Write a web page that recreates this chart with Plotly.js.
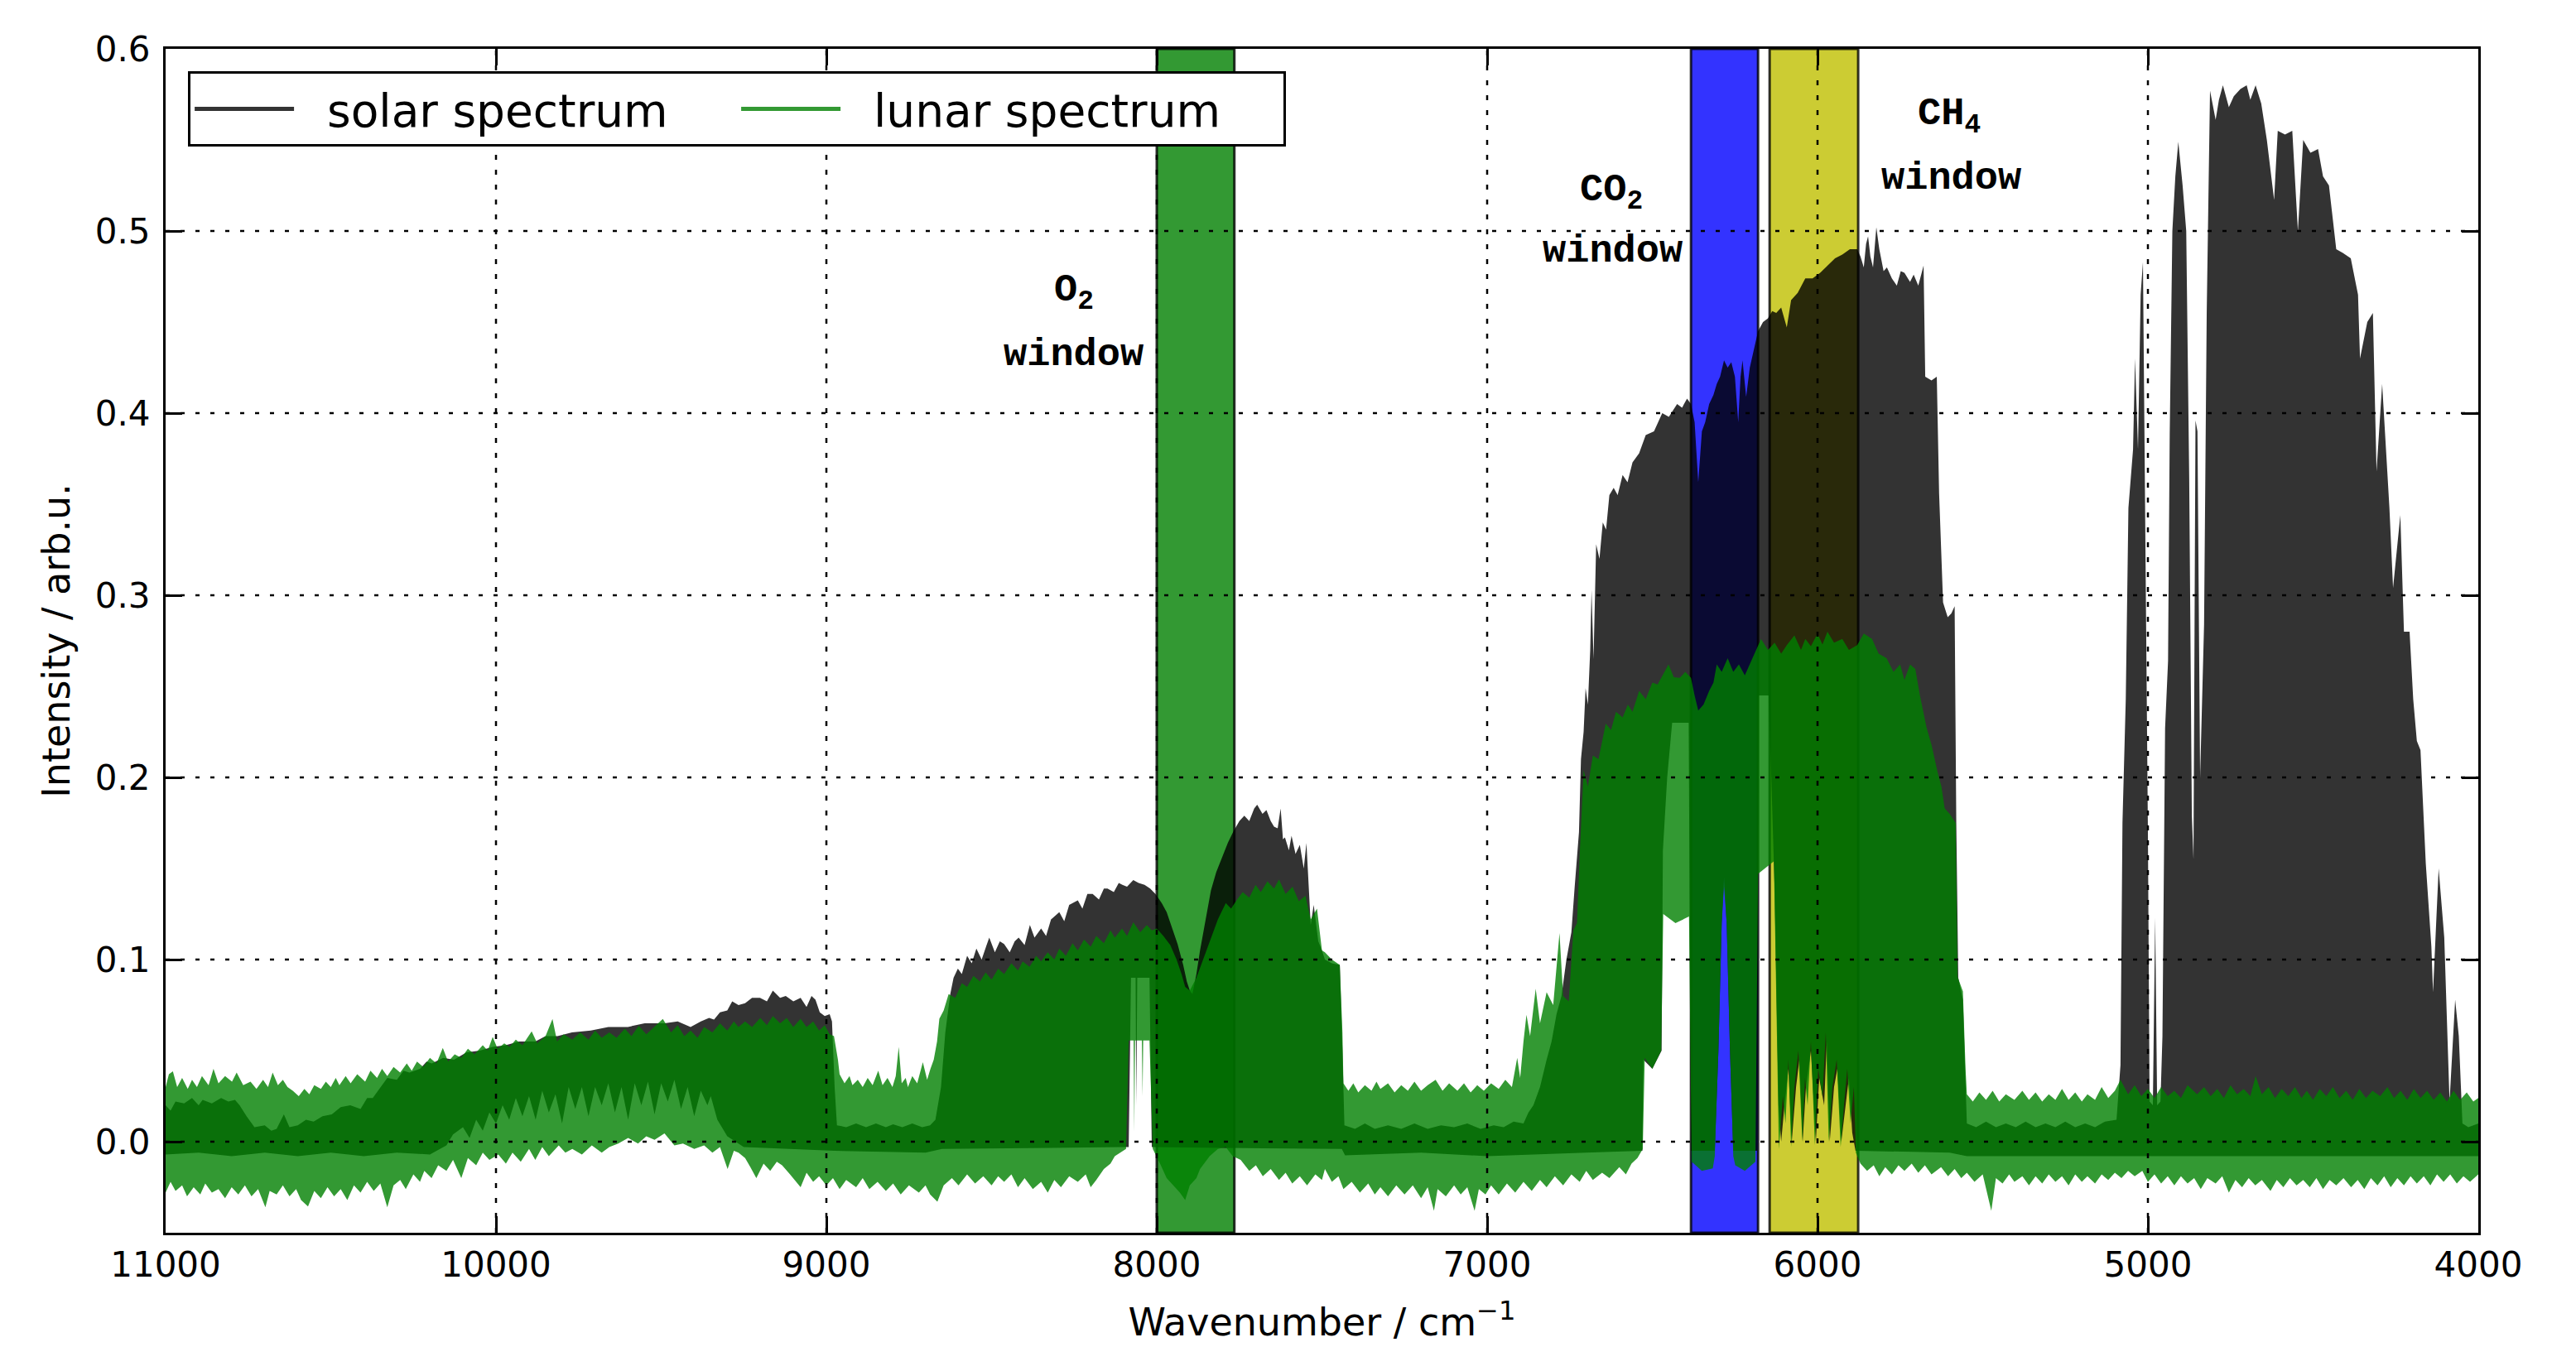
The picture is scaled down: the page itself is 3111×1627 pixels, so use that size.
<!DOCTYPE html>
<html>
<head>
<meta charset="utf-8">
<script src="https://cdn.plot.ly/plotly-3.0.1.min.js"></script>
<style>
  html, body { margin: 0; padding: 0; background: #ffffff; }
  #chart { width: 3111px; height: 1627px; }
</style>
</head>
<body>
<div id="chart"></div>
<script>
// ---------------- data ----------------
// Each spectrum is a dense, noisy trace; it is kept as its upper and lower envelope,
// as [wavenumber (cm^-1), intensity (arb.u.)] pairs.
const solarTop = [[11000,.020],[10985,.017],[10970,.022],[10944,.021],[10920,.024],[10900,.020],[10888,.023],[10860,.021],[10832,.024],[10810,.022],[10790,.023],[10776,.020],[10755,.014],[10740,.010],[10731,.008],[10700,.009],[10680,.006],[10664,.007],[10642,.015],[10625,.008],[10600,.009],[10575,.012],[10552,.011],[10525,.014],[10497,.015],[10470,.019],[10441,.020],[10410,.018],[10390,.024],[10373,.024],[10350,.030],[10329,.035],[10300,.034],[10280,.039],[10262,.038],[10230,.040],[10210,.044],[10194,.043],[10160,.046],[10127,.045],[10090,.049],[10049,.050],[10010,.052],[9971,.053],[9930,.055],[9881,.055],[9850,.058],[9814,.058],[9770,.060],[9713,.061],[9660,.063],[9601,.063],[9550,.065],[9490,.065],[9450,.066],[9411,.063],[9380,.066],[9355,.068],[9340,.067],[9322,.071],[9300,.072],[9285,.077],[9266,.075],[9246,.076],[9225,.079],[9201,.079],[9180,.077],[9162,.083],[9140,.079],[9123,.080],[9100,.077],[9078,.079],[9060,.074],[9045,.080],[9033,.078],[9020,.071],[9005,.069],[8990,.070],[8983,.066],[8975,.030],[8968,.009],[8940,.008],[8910,.010],[8880,.008],[8850,.010],[8820,.008],[8798,.0095],[8770,.008],[8740,.010],[8710,.008],[8686,.009],[8670,.012],[8653,.030],[8640,.060],[8625,.081],[8615,.090],[8602,.095],[8590,.092],[8574,.102],[8560,.098],[8546,.106],[8530,.100],[8515,.108],[8507,.112],[8490,.104],[8475,.110],[8462,.1085],[8445,.104],[8430,.110],[8418,.112],[8400,.108],[8384,.119],[8370,.112],[8350,.117],[8335,.113],[8320,.122],[8295,.126],[8280,.121],[8265,.130],[8239,.1325],[8225,.128],[8210,.136],[8194,.136],[8175,.133],[8160,.139],[8149,.139],[8130,.137],[8115,.142],[8104,.141],[8090,.140],[8071,.1436],[8055,.142],[8037,.141],[8020,.139],[8004,.136],[7985,.131],[7970,.126],[7955,.118],[7937,.1085],[7920,.097],[7909,.088],[7900,.083],[7892,.081],[7880,.092],[7869,.105],[7850,.124],[7836,.138],[7820,.148],[7802,.156],[7785,.164],[7769,.170],[7750,.176],[7735,.179],[7720,.176],[7705,.183],[7696,.185],[7680,.180],[7668,.182],[7655,.176],[7645,.173],[7634,.172],[7625,.183],[7618,.166],[7612,.167],[7600,.160],[7592,.168],[7580,.158],[7567,.163],[7555,.150],[7547,.164],[7540,.140],[7534,.119],[7525,.130],[7511,.110],[7500,.105],[7491,.100],[7470,.098],[7446,.097],[7438,.050],[7432,.009],[7400,.007],[7370,.010],[7340,.007],[7300,.009],[7260,.007],[7220,.010],[7180,.007],[7140,.009],[7100,.008],[7060,.010],[7020,.007],[6980,.009],[6950,.008],[6920,.011],[6890,.010],[6875,.016],[6860,.020],[6840,.030],[6820,.045],[6805,.055],[6790,.070],[6775,.080],[6760,.100],[6745,.115],[6735,.140],[6722,.170],[6716,.210],[6708,.225],[6702,.249],[6695,.240],[6688,.270],[6684,.303],[6678,.265],[6670,.328],[6660,.320],[6650,.340],[6640,.336],[6630,.355],[6617,.359],[6605,.355],[6590,.366],[6575,.362],[6560,.373],[6540,.378],[6520,.388],[6495,.390],[6470,.400],[6450,.398],[6425,.405],[6410,.403],[6395,.408],[6383,.405],[6372,.395],[6361,.362],[6350,.390],[6340,.395],[6328,.405],[6315,.410],[6305,.416],[6295,.420],[6283,.429],[6272,.425],[6261,.428],[6250,.420],[6240,.395],[6233,.420],[6227,.429],[6216,.409],[6205,.425],[6194,.434],[6180,.445],[6165,.450],[6150,.452],[6137,.456],[6125,.455],[6110,.458],[6093,.447],[6080,.462],[6060,.466],[6037,.474],[6015,.474],[5992,.477],[5970,.481],[5947,.485],[5925,.487],[5902,.490],[5880,.490],[5870,.486],[5860,.480],[5853,.493],[5847,.497],[5840,.486],[5832,.480],[5822,.502],[5813,.490],[5800,.478],[5790,.480],[5775,.474],[5760,.470],[5748,.478],[5737,.477],[5720,.472],[5709,.476],[5695,.470],[5679,.481],[5674,.420],[5655,.418],[5639,.420],[5632,.356],[5620,.296],[5606,.288],[5595,.290],[5585,.294],[5580,.175],[5574,.090],[5560,.078],[5548,.010],[5520,.008],[5490,.011],[5460,.008],[5430,.010],[5400,.008],[5370,.011],[5340,.008],[5310,.010],[5280,.008],[5250,.011],[5220,.008],[5190,.010],[5160,.008],[5130,.011],[5095,.012],[5083,.042],[5077,.175],[5067,.243],[5059,.348],[5045,.380],[5039,.430],[5030,.380],[5022,.465],[5015,.483],[5006,.316],[5000,.171],[4995,.022],[4985,.020],[4978,.123],[4972,.020],[4962,.022],[4956,.058],[4948,.227],[4939,.264],[4934,.388],[4926,.500],[4917,.530],[4908,.549],[4895,.525],[4884,.500],[4875,.364],[4867,.179],[4862,.155],[4856,.396],[4850,.390],[4842,.200],[4830,.284],[4822,.455],[4812,.577],[4795,.561],[4785,.572],[4773,.580],[4755,.568],[4740,.574],[4720,.578],[4701,.580],[4690,.572],[4674,.580],[4657,.570],[4640,.550],[4618,.517],[4607,.555],[4585,.553],[4563,.555],[4546,.500],[4530,.550],[4508,.543],[4485,.545],[4470,.530],[4452,.525],[4430,.490],[4410,.488],[4386,.485],[4364,.465],[4358,.430],[4336,.450],[4319,.455],[4308,.368],[4291,.416],[4269,.348],[4258,.304],[4236,.344],[4225,.280],[4208,.280],[4197,.243],[4186,.220],[4175,.215],[4159,.153],[4142,.107],[4137,.082],[4120,.150],[4103,.112],[4087,.022],[4070,.078],[4059,.058],[4048,.010],[4030,.008],[4000,.010]];
const solarLow = [[11000,-.007],[10900,-.006],[10800,-.008],[10700,-.006],[10600,-.008],[10500,-.006],[10400,-.008],[10300,-.006],[10200,-.007],[10170,-.004],[10150,-.002],[10130,.004],[10100,.008],[10080,.002],[10060,.012],[10040,.006],[10020,.016],[10000,.010],[9980,.020],[9960,.012],[9940,.024],[9920,.014],[9900,.025],[9880,.012],[9860,.028],[9840,.016],[9820,.026],[9800,.010],[9780,.030],[9760,.018],[9740,.030],[9720,.014],[9700,.030],[9680,.020],[9660,.032],[9640,.016],[9620,.030],[9600,.012],[9580,.032],[9560,.020],[9540,.033],[9520,.015],[9500,.032],[9480,.022],[9460,.034],[9440,.018],[9420,.030],[9400,.014],[9380,.028],[9360,.020],[9350,.025],[9330,.012],[9310,.006],[9300,.003],[9250,-.003],[8975,-.005],[8700,-.006],[8650,-.004],[8100,-.003],[8085,-.003],[8078,.090],[8064,.090],[8062,.020],[8059,.090],[8022,.090],[8015,-.003],[7440,-.004],[7430,-.0075],[7200,-.006],[7000,-.008],[6700,-.006],[6530,-.005],[6527,.045],[6500,.040],[6472,.050],[6468,.160],[6455,.200],[6440,.230],[6390,.230],[6383,-.005],[6311,-.005],[6300,.050],[6290,.120],[6283,.145],[6275,.120],[6265,.050],[6255,-.005],[6183,-.005],[6178,.245],[6148,.245],[6140,.200],[6130,.140],[6118,.020],[6110,.000],[6100,.020],[6088,.040],[6078,.000],[6065,.030],[6055,.045],[6045,.000],[6035,.030],[6020,.050],[6005,.000],[5995,.035],[5980,.020],[5972,.055],[5963,.000],[5950,.030],[5940,.040],[5928,.000],[5915,.020],[5905,.035],[5895,.005],[5885,-.005],[5600,-.006],[5548,-.008],[4000,-.008]];

const lunarTop = [[11000,.030],[10990,.037],[10978,.0386],[10965,.030],[10950,.035],[10933,.029],[10920,.034],[10905,.030],[10890,.036],[10870,.031],[10855,.040],[10840,.032],[10820,.036],[10799,.033],[10785,.038],[10765,.031],[10743,.033],[10725,.029],[10705,.034],[10690,.030],[10676,.038],[10660,.031],[10645,.034],[10631,.030],[10615,.028],[10597,.025],[10580,.029],[10565,.026],[10550,.031],[10530,.029],[10515,.033],[10500,.030],[10485,.035],[10474,.031],[10455,.036],[10440,.032],[10420,.037],[10396,.033],[10380,.039],[10360,.035],[10345,.040],[10329,.036],[10310,.041],[10290,.038],[10270,.043],[10255,.039],[10239,.044],[10220,.041],[10200,.046],[10180,.043],[10161,.0515],[10145,.044],[10125,.048],[10105,.046],[10085,.051],[10065,.048],[10040,.053],[10025,.050],[10010,.0575],[9995,.051],[9975,.054],[9959,.052],[9940,.056],[9920,.053],[9892,.0606],[9875,.054],[9850,.058],[9829,.0674],[9815,.055],[9795,.059],[9769,.056],[9745,.060],[9720,.056],[9700,.061],[9680,.057],[9657,.060],[9635,.057],[9610,.062],[9590,.058],[9568,.0636],[9545,.059],[9520,.063],[9495,.0674],[9470,.060],[9450,.064],[9430,.058],[9411,.061],[9390,.057],[9370,.063],[9345,.060],[9322,.065],[9300,.061],[9280,.066],[9266,.063],[9246,.066],[9225,.063],[9200,.068],[9180,.064],[9162,.069],[9140,.065],[9120,.068],[9100,.063],[9078,.0675],[9060,.063],[9040,.066],[9022,.061],[9005,.064],[8990,.059],[8977,.058],[8965,.045],[8960,.037],[8945,.032],[8930,.036],[8921,.031],[8905,.034],[8890,.030],[8875,.035],[8860,.031],[8843,.039],[8830,.031],[8815,.035],[8800,.030],[8790,.036],[8781,.052],[8772,.032],[8760,.035],[8753,.030],[8740,.036],[8725,.032],[8708,.0436],[8695,.034],[8685,.040],[8675,.045],[8665,.055],[8658,.0675],[8645,.072],[8630,.081],[8610,.079],[8590,.087],[8574,.085],[8555,.091],[8535,.088],[8518,.093],[8500,.089],[8480,.095],[8462,.092],[8440,.098],[8420,.094],[8406,.099],[8385,.096],[8365,.102],[8350,.099],[8330,.104],[8310,.100],[8295,.106],[8275,.102],[8255,.109],[8239,.105],[8220,.111],[8200,.107],[8183,.113],[8160,.109],[8140,.116],[8127,.112],[8105,.117],[8090,.113],[8071,.1205],[8050,.115],[8030,.119],[8015,.116],[8000,.117],[7980,.113],[7959,.108],[7940,.100],[7925,.092],[7914,.085],[7900,.083],[7880,.090],[7860,.100],[7836,.112],[7815,.122],[7791,.131],[7775,.128],[7757,.133],[7740,.137],[7720,.134],[7701,.141],[7685,.137],[7665,.143],[7645,.139],[7630,.144],[7610,.136],[7589,.140],[7570,.132],[7550,.135],[7534,.122],[7515,.128],[7500,.105],[7491,.104],[7470,.100],[7446,.097],[7438,.060],[7435,.032],[7420,.028],[7405,.032],[7390,.027],[7370,.031],[7350,.028],[7335,.033],[7323,.029],[7300,.032],[7280,.027],[7260,.031],[7240,.028],[7220,.033],[7200,.028],[7180,.031],[7156,.034],[7135,.028],[7115,.032],[7090,.028],[7070,.032],[7050,.027],[7030,.031],[7010,.028],[6988,.032],[6965,.029],[6945,.034],[6925,.030],[6909,.046],[6900,.035],[6890,.055],[6881,.0697],[6870,.058],[6853,.084],[6840,.065],[6820,.082],[6800,.075],[6781,.1146],[6770,.080],[6753,.077],[6739,.116],[6728,.120],[6719,.161],[6708,.204],[6695,.195],[6680,.212],[6663,.210],[6650,.222],[6641,.2295],[6625,.226],[6610,.236],[6590,.233],[6574,.240],[6560,.236],[6540,.2475],[6520,.243],[6500,.252],[6484,.251],[6465,.257],[6451,.262],[6435,.255],[6417,.2547],[6400,.258],[6383,.2547],[6372,.245],[6361,.2367],[6345,.240],[6328,.2475],[6315,.252],[6305,.262],[6290,.258],[6272,.2655],[6255,.258],[6238,.262],[6220,.256],[6205,.262],[6190,.268],[6171,.276],[6150,.270],[6130,.274],[6110,.268],[6093,.2726],[6070,.278],[6050,.270],[6037,.276],[6020,.272],[6000,.279],[5985,.273],[5970,.280],[5950,.274],[5925,.276],[5905,.270],[5880,.2726],[5860,.279],[5835,.276],[5815,.268],[5791,.2655],[5770,.258],[5750,.262],[5737,.2535],[5720,.262],[5704,.2596],[5690,.245],[5670,.2274],[5655,.218],[5637,.2032],[5625,.195],[5615,.183],[5600,.180],[5582,.175],[5576,.0905],[5560,.0825],[5552,.040],[5548,.026],[5530,.022],[5510,.027],[5490,.023],[5470,.028],[5450,.022],[5430,.026],[5404,.023],[5380,.028],[5360,.023],[5340,.027],[5320,.022],[5300,.026],[5280,.023],[5260,.029],[5240,.023],[5220,.027],[5200,.022],[5183,.026],[5160,.023],[5140,.030],[5120,.024],[5100,.028],[5083,.034],[5060,.026],[5040,.031],[5020,.025],[5000,.029],[4980,.024],[4960,.030],[4940,.025],[4920,.028],[4900,.024],[4880,.031],[4851,.026],[4830,.030],[4810,.025],[4790,.029],[4770,.024],[4750,.031],[4730,.026],[4710,.029],[4690,.025],[4674,.036],[4655,.026],[4635,.030],[4615,.024],[4595,.029],[4575,.025],[4555,.030],[4535,.024],[4519,.028],[4500,.023],[4480,.029],[4460,.025],[4440,.030],[4420,.024],[4400,.028],[4380,.023],[4360,.029],[4340,.024],[4320,.028],[4297,.025],[4275,.030],[4255,.024],[4235,.028],[4215,.023],[4195,.029],[4175,.024],[4155,.028],[4135,.023],[4115,.027],[4095,.022],[4075,.028],[4055,.023],[4035,.027],[4015,.022],[4000,.024]];
const lunarLow = [[11000,-.028],[10985,-.022],[10970,-.027],[10950,-.024],[10935,-.030],[10915,-.025],[10895,-.029],[10880,-.023],[10860,-.028],[10840,-.026],[10820,-.031],[10800,-.025],[10780,-.029],[10760,-.024],[10740,-.030],[10720,-.026],[10698,-.036],[10685,-.027],[10664,-.029],[10645,-.024],[10625,-.030],[10605,-.026],[10590,-.032],[10569,-.0356],[10550,-.027],[10530,-.031],[10510,-.025],[10490,-.030],[10470,-.026],[10450,-.032],[10430,-.024],[10410,-.028],[10390,-.022],[10370,-.027],[10350,-.023],[10329,-.036],[10310,-.024],[10290,-.021],[10273,-.026],[10250,-.018],[10230,-.022],[10217,-.016],[10195,-.020],[10175,-.013],[10150,-.016],[10130,-.010],[10105,-.020],[10085,-.009],[10060,-.013],[10040,-.006],[10020,-.010],[9993,-.007],[9970,-.012],[9950,-.006],[9925,-.011],[9900,-.004],[9881,-.010],[9860,-.003],[9840,-.008],[9810,-.002],[9790,-.006],[9769,-.004],[9740,-.007],[9710,-.002],[9680,-.006],[9657,-.003],[9630,-.001],[9600,.002],[9570,-.001],[9545,.003],[9520,.001],[9490,.0045],[9460,-.002],[9434,-.001],[9400,-.004],[9370,-.002],[9345,-.006],[9322,-.003],[9299,-.015],[9280,-.005],[9266,-.006],[9246,-.009],[9230,-.014],[9212,-.020],[9190,-.012],[9170,-.016],[9150,-.011],[9134,-.013],[9110,-.018],[9078,-.025],[9060,-.017],[9040,-.022],[9022,-.019],[9000,-.024],[8980,-.020],[8960,-.026],[8940,-.021],[8910,-.025],[8890,-.020],[8870,-.026],[8845,-.022],[8820,-.027],[8798,-.023],[8775,-.029],[8750,-.024],[8720,-.028],[8700,-.024],[8686,-.029],[8664,-.033],[8645,-.024],[8620,-.020],[8600,-.024],[8574,-.018],[8550,-.023],[8525,-.019],[8500,-.024],[8480,-.019],[8462,-.022],[8440,-.018],[8420,-.025],[8400,-.020],[8375,-.026],[8350,-.022],[8330,-.028],[8310,-.021],[8290,-.025],[8265,-.019],[8239,-.022],[8215,-.018],[8200,-.025],[8183,-.021],[8160,-.015],[8140,-.012],[8127,-.008],[8093,-.004],[8085,.0556],[8070,.0556],[8068,.005],[8066,.0556],[8045,.0556],[8043,.025],[8041,.0556],[8022,.0556],[8012,-.004],[7990,-.012],[7970,-.020],[7950,-.024],[7930,-.028],[7914,-.032],[7900,-.024],[7880,-.020],[7869,-.015],[7840,-.008],[7815,-.004],[7791,-.003],[7770,-.008],[7746,-.010],[7720,-.016],[7700,-.013],[7679,-.019],[7655,-.015],[7630,-.021],[7610,-.017],[7590,-.023],[7567,-.019],[7545,-.024],[7520,-.018],[7500,-.021],[7491,-.015],[7470,-.022],[7450,-.019],[7435,-.026],[7410,-.022],[7385,-.028],[7360,-.023],[7340,-.029],[7323,-.025],[7300,-.030],[7275,-.024],[7250,-.029],[7225,-.024],[7200,-.031],[7180,-.025],[7161,-.038],[7150,-.026],[7125,-.030],[7100,-.024],[7080,-.029],[7060,-.025],[7038,-.038],[7025,-.026],[7005,-.029],[6988,-.024],[6965,-.029],[6940,-.023],[6915,-.028],[6890,-.022],[6865,-.027],[6840,-.021],[6820,-.025],[6795,-.019],[6770,-.024],[6745,-.018],[6720,-.022],[6700,-.016],[6680,-.021],[6652,-.017],[6630,-.020],[6600,-.014],[6580,-.018],[6563,-.012],[6545,-.009],[6529,-.004],[6523,.046],[6500,.040],[6473,.050],[6467,.125],[6430,.120],[6389,.1236],[6381,-.011],[6350,-.016],[6317,-.0147],[6311,-.008],[6300,.050],[6290,.120],[6283,.140],[6275,.120],[6265,.050],[6255,-.008],[6249,-.013],[6220,-.016],[6188,-.011],[6180,.147],[6132,.154],[6117,-.004],[6105,.025],[6097,.010],[6088,.045],[6080,-.003],[6070,.030],[6058,.050],[6046,.000],[6038,.035],[6030,.020],[6020,.055],[6008,-.002],[5998,.040],[5985,.025],[5975,.060],[5966,.000],[5955,.030],[5942,.045],[5930,-.003],[5920,.020],[5910,.040],[5900,.010],[5890,.030],[5884,-.006],[5870,-.012],[5850,-.016],[5830,-.013],[5813,-.019],[5795,-.014],[5775,-.018],[5755,-.013],[5737,-.016],[5715,-.012],[5695,-.017],[5675,-.013],[5655,-.018],[5626,-.014],[5605,-.019],[5585,-.015],[5565,-.020],[5548,-.017],[5525,-.022],[5500,-.018],[5474,-.038],[5460,-.020],[5440,-.023],[5420,-.018],[5404,-.022],[5380,-.019],[5360,-.024],[5340,-.019],[5320,-.023],[5300,-.018],[5280,-.022],[5260,-.019],[5240,-.024],[5220,-.018],[5200,-.022],[5183,-.019],[5160,-.023],[5140,-.018],[5120,-.021],[5100,-.017],[5080,-.020],[5060,-.016],[5040,-.019],[5017,-.016],[5000,-.022],[4980,-.018],[4960,-.023],[4940,-.019],[4920,-.024],[4900,-.019],[4880,-.023],[4860,-.020],[4840,-.026],[4820,-.020],[4795,-.023],[4775,-.019],[4755,-.028],[4735,-.021],[4715,-.025],[4695,-.020],[4675,-.024],[4655,-.021],[4629,-.027],[4610,-.021],[4590,-.025],[4570,-.020],[4550,-.024],[4530,-.021],[4510,-.025],[4490,-.020],[4470,-.026],[4450,-.021],[4430,-.024],[4408,-.020],[4385,-.025],[4365,-.021],[4345,-.026],[4325,-.020],[4305,-.024],[4285,-.019],[4265,-.025],[4245,-.020],[4225,-.024],[4205,-.019],[4186,-.023],[4165,-.019],[4145,-.024],[4125,-.018],[4105,-.022],[4085,-.018],[4065,-.023],[4045,-.019],[4025,-.022],[4000,-.018]];

// Retrieval windows (cm^-1)
const windowNames = ['O2', 'CO2', 'CH4'];
const windowFrom  = [7765, 6180, 5877];
const windowTo    = [8000, 6383, 6145];

// Axis ticks and series names
const xTickVals = [11000, 10000, 9000, 8000, 7000, 6000, 5000, 4000];
const yTickVals = [0.0, 0.1, 0.2, 0.3, 0.4, 0.5, 0.6];
const seriesNames = ['solar spectrum', 'lunar spectrum'];

// ---------------- styles ----------------
const windowFill = { O2: 'rgba(0,128,0,0.8)', CO2: 'rgba(0,0,255,0.8)', CH4: 'rgba(191,191,0,0.8)' };
const solarFill = 'rgba(0,0,0,0.8)';
const lunarFill = 'rgba(0,128,0,0.8)';
const tickFont = { family: 'DejaVu Sans', size: 42, color: '#000' };
const titleFont = { family: 'DejaVu Sans', size: 46, color: '#000' };
const labelFont = { family: 'Liberation Mono', size: 47, color: '#000', weight: 'bold' };
const NB = '\u00a0';

function polygon(top, low) {
  const pts = top.concat(low.slice().reverse());
  return { x: pts.map(p => p[0]), y: pts.map(p => p[1]) };
}

const solarPoly = polygon(solarTop, solarLow);
const lunarPoly = polygon(lunarTop, lunarLow);

const traces = [
  { x: solarPoly.x, y: solarPoly.y, type: 'scatter', mode: 'lines', fill: 'toself',
    fillcolor: solarFill, line: { width: 0, color: solarFill }, showlegend: false, hoverinfo: 'skip' },
  { x: lunarPoly.x, y: lunarPoly.y, type: 'scatter', mode: 'lines', fill: 'toself',
    fillcolor: lunarFill, line: { width: 0, color: lunarFill }, showlegend: false, hoverinfo: 'skip' },
  // legend keys
  { x: [null], y: [null], type: 'scatter', mode: 'lines', name: NB + NB + seriesNames[0],
    line: { color: solarFill, width: 5 } },
  { x: [null], y: [null], type: 'scatter', mode: 'lines', name: NB + NB + seriesNames[1],
    line: { color: lunarFill, width: 5 } }
];

const shapes = [];
windowNames.forEach((n, i) => {
  shapes.push({ type: 'rect', xref: 'x', yref: 'paper', x0: windowFrom[i], x1: windowTo[i], y0: 0, y1: 1,
    fillcolor: windowFill[n], line: { color: 'rgba(0,0,0,0.8)', width: 3 }, layer: 'below' });
});
// dotted grid drawn above the data, as in the reference
xTickVals.slice(1, -1).forEach(v => {
  shapes.push({ type: 'line', xref: 'x', yref: 'paper', x0: v, x1: v, y0: 0, y1: 1,
    line: { color: '#000', width: 2.5, dash: '6px,12px' }, layer: 'above' });
});
yTickVals.slice(0, -1).forEach(v => {
  shapes.push({ type: 'line', xref: 'paper', yref: 'y', x0: 0, x1: 1, y0: v, y1: v,
    line: { color: '#000', width: 2.5, dash: '5px,13px' }, layer: 'above' });
});

const annotations = [
  { x: 8251, y: 0.466, text: 'O<sub>2</sub>' },
  { x: 8251, y: 0.432, text: 'window' },
  { x: 6624, y: 0.521, text: 'CO<sub>2</sub>' },
  { x: 6621, y: 0.489, text: 'window' },
  { x: 5601, y: 0.563, text: 'CH<sub>4</sub>' },
  { x: 5596, y: 0.529, text: 'window' }
].map(a => Object.assign({ xref: 'x', yref: 'y', showarrow: false, xanchor: 'center', yanchor: 'middle', font: labelFont }, a));

const layout = {
  width: 3111, height: 1627,
  margin: { l: 200, r: 118, t: 59, b: 138 },
  paper_bgcolor: '#ffffff', plot_bgcolor: '#ffffff',
  font: { family: 'DejaVu Sans', color: '#000' },
  showlegend: true,
  legend: {
    x: 0.0097, y: 0.981, xanchor: 'left', yanchor: 'top', orientation: 'h',
    bgcolor: '#ffffff', bordercolor: '#000', borderwidth: 3,
    font: { family: 'DejaVu Sans', size: 55, color: '#000' },
    itemwidth: 120, entrywidth: 525, entrywidthmode: 'pixels'
  },
  xaxis: {
    range: [11000, 4000], tickvals: xTickVals, tickformat: 'd',
    ticks: 'inside', ticklen: 20, tickwidth: 3, tickcolor: '#000',
    showline: true, linewidth: 3, linecolor: '#000', mirror: 'allticks',
    showgrid: false, zeroline: false, tickfont: tickFont, ticklabelstandoff: 0,
    title: { text: 'Wavenumber / cm<sup>\u22121</sup>', font: titleFont, standoff: 30 }
  },
  yaxis: {
    range: [-0.05, 0.6], tickvals: yTickVals, tickformat: '.1f',
    ticks: 'inside', ticklen: 20, tickwidth: 3, tickcolor: '#000',
    showline: true, linewidth: 3, linecolor: '#000', mirror: 'allticks',
    showgrid: false, zeroline: false, tickfont: tickFont, ticklabelstandoff: 7,
    title: { text: 'Intensity / arb.u.', font: titleFont, standoff: 16 }
  },
  shapes: shapes,
  annotations: annotations
};

Plotly.newPlot('chart', traces, layout, { displayModeBar: false, staticPlot: true });
</script>
</body>
</html>
